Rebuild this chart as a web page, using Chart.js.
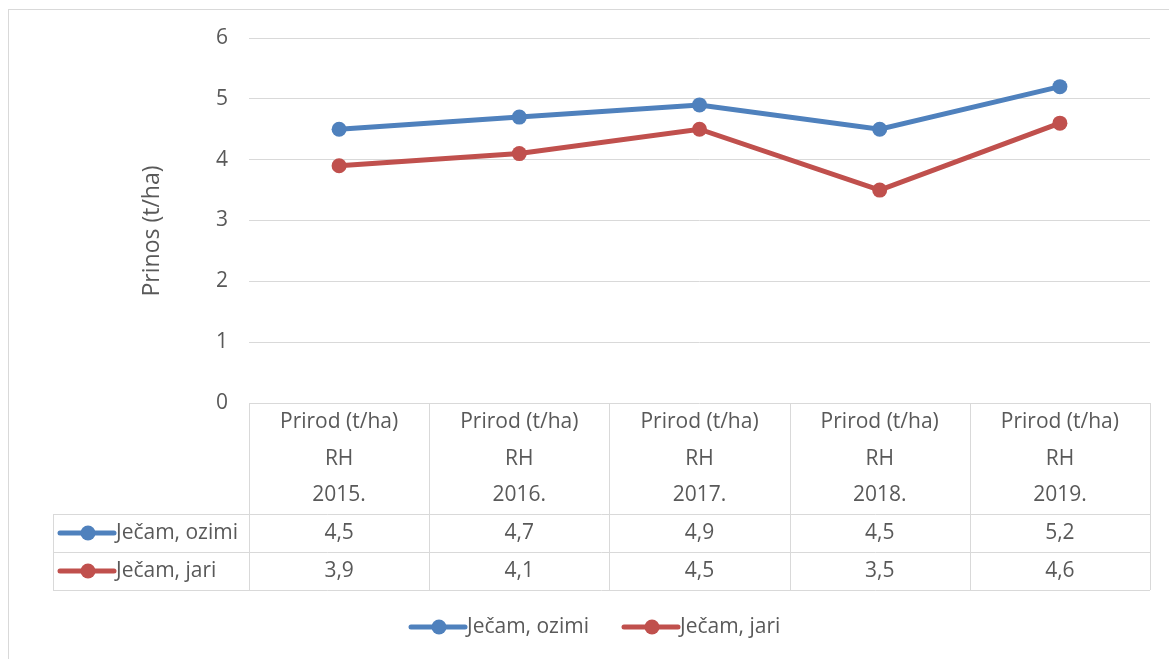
<!DOCTYPE html>
<html>
<head>
<meta charset="utf-8">
<script src="https://cdn.jsdelivr.net/npm/chart.js@4.4.1/dist/chart.umd.min.js"></script>
<style>
  html, body { margin: 0; padding: 0; background: #fff; }
  #wrap { width: 1169px; height: 659px; }
</style>
</head>
<body>
<div id="wrap"><canvas id="yieldChart" width="1169" height="659"></canvas></div>
<script>
const years = ['2015.', '2016.', '2017.', '2018.', '2019.'];
const headTop = 'Prirod (t/ha)';
const headMid = 'RH';
const seriesNames = ['Ječam, ozimi', 'Ječam, jari'];
const ozimi = [4.5, 4.7, 4.9, 4.5, 5.2];
const jari = [3.9, 4.1, 4.5, 3.5, 4.6];
const yTicks = [0, 1, 2, 3, 4, 5, 6];
const yTitle = 'Prinos (t/ha)';

const BLUE = '#4f81bd', RED = '#c0504d', GRID = '#d9d9d9', TXT = '#595959';
const FONT = '"Open Sans", "Liberation Sans", sans-serif';
const fmt = v => v.toFixed(1).replace('.', ',');

function lineKey(ctx, x, y, color) {
    ctx.strokeStyle = color;
    ctx.lineWidth = 5;
    ctx.lineCap = 'round';
    ctx.beginPath();
    ctx.moveTo(x, y);
    ctx.lineTo(x + 54, y);
    ctx.stroke();
    ctx.fillStyle = color;
    ctx.beginPath();
    ctx.arc(x + 28, y, 7.5, 0, Math.PI * 2);
    ctx.fill();
}

const tablePlugin = {
    id: 'dataTable',
    afterDraw(chart) {
        const ctx = chart.ctx;
        const xs = chart.scales.x;
        const area = chart.chartArea;
        const colW = xs.width / years.length;
        const headBot = area.bottom + 111;
        const row1 = headBot + 38, row2 = row1 + 38;
        const tblLeft = 53;
        ctx.save();

        // outer chart border
        ctx.strokeStyle = GRID;
        ctx.lineWidth = 1;
        ctx.strokeRect(8.5, 9.5, 1200, 700);

        // table grid
        ctx.beginPath();
        for (let i = 0; i <= years.length; i++) {
            const x = Math.round(area.left + i * colW) + 0.5;
            ctx.moveTo(x, area.bottom);
            ctx.lineTo(x, row2);
        }
        [headBot, row1, row2].forEach(y => {
            ctx.moveTo(tblLeft, y + 0.5);
            ctx.lineTo(area.right, y + 0.5);
        });
        ctx.moveTo(tblLeft + 0.5, headBot);
        ctx.lineTo(tblLeft + 0.5, row2);
        ctx.stroke();

        ctx.fillStyle = TXT;
        ctx.font = '21px ' + FONT;
        ctx.textAlign = 'center';
        ctx.textBaseline = 'middle';
        years.forEach((yr, i) => {
            const cx = xs.getPixelForValue(i);
            ctx.fillText(headTop, cx, area.bottom + 19);
            ctx.fillText(headMid, cx, area.bottom + 56);
            ctx.fillText(yr, cx, area.bottom + 92);
            ctx.fillText(fmt(ozimi[i]), cx, headBot + 19);
            ctx.fillText(fmt(jari[i]), cx, row1 + 19);
        });

        // row keys
        ctx.textAlign = 'left';
        lineKey(ctx, 60, headBot + 19, BLUE);
        lineKey(ctx, 60, row1 + 19, RED);
        ctx.fillStyle = TXT;
        ctx.fillText(seriesNames[0], 116, headBot + 19);
        ctx.fillText(seriesNames[1], 116, row1 + 19);

        // legend
        const ly = 627;
        lineKey(ctx, 411, ly, BLUE);
        lineKey(ctx, 624, ly, RED);
        ctx.fillStyle = TXT;
        ctx.fillText(seriesNames[0], 467, ly);
        ctx.fillText(seriesNames[1], 680, ly);

        // y axis title
        ctx.font = '23px ' + FONT;
        ctx.translate(152, 231);
        ctx.rotate(-Math.PI / 2);
        ctx.textAlign = 'center';
        ctx.fillText(yTitle, 0, 0);
        ctx.restore();
    }
};

new Chart(document.getElementById('yieldChart'), {
    type: 'line',
    data: {
        labels: years.map(y => [headTop, headMid, y]),
        datasets: [
            { label: seriesNames[0], data: ozimi, borderColor: BLUE, backgroundColor: BLUE,
              borderWidth: 5, pointRadius: 7.5, pointHoverRadius: 7.5, pointBorderWidth: 0 },
            { label: seriesNames[1], data: jari, borderColor: RED, backgroundColor: RED,
              borderWidth: 5, pointRadius: 7.5, pointHoverRadius: 7.5, pointBorderWidth: 0 }
        ]
    },
    options: {
        responsive: false,
        devicePixelRatio: 1,
        animation: false,
        layout: { padding: { left: 0, top: 38, right: 19, bottom: 256 } },
        plugins: { legend: { display: false }, tooltip: { enabled: false } },
        scales: {
            x: { display: false, offset: true },
            y: {
                min: 0, max: 6,
                afterFit: s => { s.width = 249; },
                afterBuildTicks: s => { s.ticks = yTicks.map(v => ({ value: v })); },
                ticks: { color: TXT, font: { size: 21, family: FONT }, padding: 21 },
                grid: { color: GRID, lineWidth: 1, drawTicks: false },
                border: { display: false }
            }
        }
    },
    plugins: [tablePlugin]
});
</script>
</body>
</html>
